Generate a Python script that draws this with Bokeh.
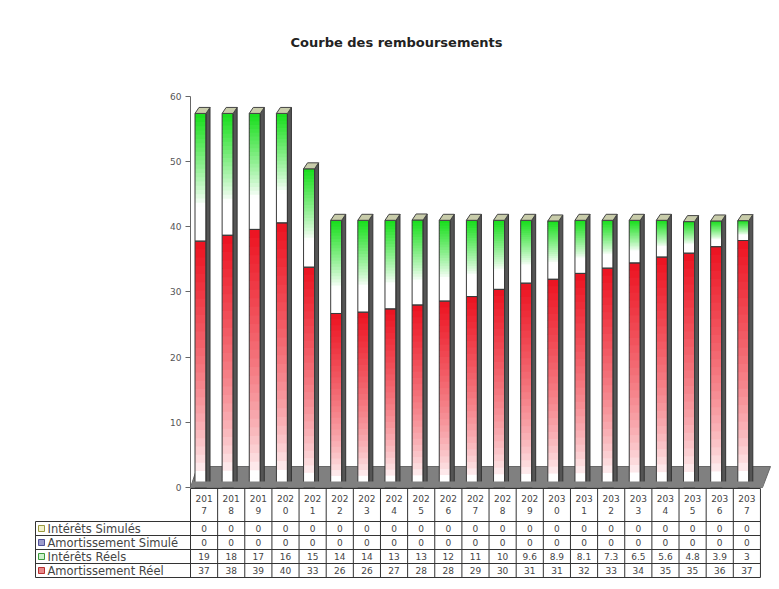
import math
from bokeh.plotting import figure
from bokeh.models import Range1d, FixedTicker
from bokeh.core.properties import value
from bokeh.embed import file_html
from bokeh.resources import INLINE

# ---------------- data ----------------
years = ["2017", "2018", "2019", "2020", "2021", "2022", "2023", "2024", "2025", "2026", "2027",
         "2028", "2029", "2030", "2031", "2032", "2033", "2034", "2035", "2036", "2037"]
series_names = ["Intérêts Simulés", "Amortissement Simulé", "Intérêts Réels", "Amortissement Réel"]
interets_simules = [0, 0, 0, 0, 0, 0, 0, 0, 0, 0, 0, 0, 0, 0, 0, 0, 0, 0, 0, 0, 0]
amortissement_simule = [0, 0, 0, 0, 0, 0, 0, 0, 0, 0, 0, 0, 0, 0, 0, 0, 0, 0, 0, 0, 0]
interets_reels = [19.6, 18.7, 17.8, 16.8, 15.1, 14.3, 14.1, 13.6, 13.05, 12.4, 11.7,
                  10.6, 9.65, 8.95, 8.15, 7.35, 6.55, 5.65, 4.85, 3.95, 3.05]
amortissement_reel = [37.8, 38.7, 39.6, 40.6, 33.8, 26.7, 26.9, 27.4, 28.0, 28.6, 29.3,
                      30.4, 31.35, 31.95, 32.85, 33.65, 34.45, 35.35, 35.95, 36.95, 37.9]
y_ticks = [0, 10, 20, 30, 40, 50, 60]
title_text = "Courbe des remboursements"

# ---------------- geometry ----------------
U = 27.14      # px per category
K = 6.517      # px per y unit
W = 771
H = 581
Y0 = 487       # page y of value 0
FONT = value("DejaVu Sans")
n = len(years)


def py(page_y):
    return (Y0 - page_y) / K


def px(page_x):
    return -0.5 + (page_x - 190) / U


p = figure(width=W, height=H, x_range=Range1d(px(190), px(771)),
           y_range=Range1d(py(581), py(8)), min_border_left=190, min_border_right=0,
           min_border_top=8, min_border_bottom=0, x_axis_location=None,
           output_backend="svg", toolbar_location=None, title=None)
p.outline_line_color = None
p.grid.visible = False
ax = p.yaxis[0]
ax.ticker = FixedTicker(ticks=y_ticks)
ax.bounds = (0, 60)
ax.axis_line_color = "#666666"
ax.major_tick_line_color = "#666666"
ax.major_tick_out = 5
ax.major_tick_in = 0
ax.minor_tick_line_color = None
ax.major_label_text_font = "DejaVu Sans"
ax.major_label_text_font_size = "9px"
ax.major_label_text_color = "#555555"
ax.major_label_standoff = 4

# floor (3D base)
floor_d = 21 / K
p.patch([px(190), px(197), px(770), px(762)],
        [0, floor_d, floor_d, 0], fill_color="#808080", line_color="#686868", line_width=1)


def shade(c, m):
    m = max(0.0, min(1.0, m))
    return "#%02x%02x%02x" % tuple(int(round(255 + (ci - 255) * m)) for ci in c)


RED = (236, 18, 32)
GREEN = (22, 222, 26)
NS = 30
qx0, qx1, qb, qt, qc = [], [], [], [], []
ox0, ox1, ob, ot = [], [], [], []
side_xs, side_ys, cap_xs, cap_ys = [], [], [], []
dx = 4 / U
dy = 6 / K
eps = 0.8 / K
for i in range(n):
    left = i - 0.5 + 4.5 / U
    right = left + 11 / U
    a = amortissement_reel[i]
    tot = a + interets_reels[i] + amortissement_simule[i] + interets_simules[i]
    segs = [(0, a, RED, 0.95, 0.7), (a, a + interets_reels[i], GREEN, 0.72, 0.85)]
    for (b0, b1, col, reach, pw) in segs:
        h = b1 - b0
        if h <= 0:
            continue
        for k in range(NS):
            y0 = b0 + h * k / NS
            y1 = b0 + h * (k + 1) / NS
            if k < NS - 1:
                y1 += eps
            t = 1 - (k + 0.5) / NS
            m = max(0.0, 1 - t / reach) ** pw
            qx0.append(left); qx1.append(right); qb.append(y0); qt.append(y1)
            qc.append(shade(col, m))
        ox0.append(left); ox1.append(right); ob.append(b0); ot.append(b1)
    side_xs.append([right, right + dx, right + dx, right])
    side_ys.append([0, dy, tot + dy, tot])
    cap_xs.append([left, right, right + dx, left + dx])
    cap_ys.append([tot, tot, tot + dy, tot + dy])

p.quad(left=qx0, right=qx1, bottom=qb, top=qt, fill_color=qc, line_color=None)
p.patches(side_xs, side_ys, fill_color="#555555", line_color="#333333", line_width=1)
p.quad(left=ox0, right=ox1, bottom=ob, top=ot, fill_color=None, line_color="#3a3a3a", line_width=1)
p.patches(cap_xs, cap_ys, fill_color="#c8ccaa", line_color="#444444", line_width=1)

# front lip of the floor over bar bottoms
lip = 6 / K
p.patch([px(190), px(192), px(764), px(762)],
        [0, lip, lip, 0], fill_color="#808080", line_color=None)

# title
p.text(x=[px(396)], y=[py(42)], text=[title_text], text_font=FONT,
       text_font_style="bold", text_font_size="13px", text_align="center",
       text_baseline="middle", text_color="#222222")

# ---------------- data table ----------------
leg_left = px(35)
right_edge = n - 0.5
row_lines = [521, 535, 549, 563, 577]
sx0, sx1, sy0, sy1 = [], [], [], []
for yy in row_lines:
    sx0.append(leg_left); sx1.append(right_edge); sy0.append(py(yy)); sy1.append(py(yy))
sx0.append(-0.5); sx1.append(right_edge); sy0.append(py(488)); sy1.append(py(488))
for j in range(n + 1):
    sx0.append(j - 0.5); sx1.append(j - 0.5); sy0.append(py(488)); sy1.append(py(577))
sx0.append(leg_left); sx1.append(leg_left); sy0.append(py(521)); sy1.append(py(577))
p.segment(x0=sx0, y0=sy0, x1=sx1, y1=sy1, line_color="#333333", line_width=1, level="overlay")

# header years
hx, hy, ht = [], [], []
for i, yr in enumerate(years):
    hx += [i, i]
    hy += [py(498), py(510)]
    ht += [yr[:3], yr[3:]]
p.text(x=hx, y=hy, text=ht, text_font=FONT, text_font_size="9px", text_align="center",
       text_baseline="middle", text_color="#444444")


def fmt(v):
    if v == 0:
        return "0"
    if v >= 10:
        return str(int(v))
    tv = math.floor(v * 10 + 1e-9) / 10
    return str(int(tv)) if tv == int(tv) else "%.1f" % tv


rows = [interets_simules, amortissement_simule, interets_reels, amortissement_reel]
vx, vy, vt = [], [], []
for r, vals in enumerate(rows):
    yc = py((row_lines[r] + row_lines[r + 1]) / 2)
    for i, v in enumerate(vals):
        vx.append(i); vy.append(yc); vt.append(fmt(v))
p.text(x=vx, y=vy, text=vt, text_font=FONT, text_font_size="9px", text_align="center",
       text_baseline="middle", text_color="#444444")

# legend column
marker_fill = ["#f2f2cc", "#9c9ccc", "#ccf2cc", "#e88a8a"]
marker_line = ["#9a9a40", "#505098", "#3c9a3c", "#b83030"]
for r in range(4):
    yc = (row_lines[r] + row_lines[r + 1]) / 2
    p.patch([px(38), px(44), px(44), px(38)], [py(yc + 3), py(yc + 3), py(yc - 3), py(yc - 3)],
            fill_color=marker_fill[r], line_color=marker_line[r], line_width=1, level="overlay")
ly = [py((row_lines[r] + row_lines[r + 1]) / 2) for r in range(4)]
p.text(x=[px(47)] * 4, y=ly, text=series_names, text_font=FONT,
       text_font_size="11.5px", text_align="left", text_baseline="middle", text_color="#444444",
       level="overlay")

open("out.html", "w").write(file_html(p, INLINE))
